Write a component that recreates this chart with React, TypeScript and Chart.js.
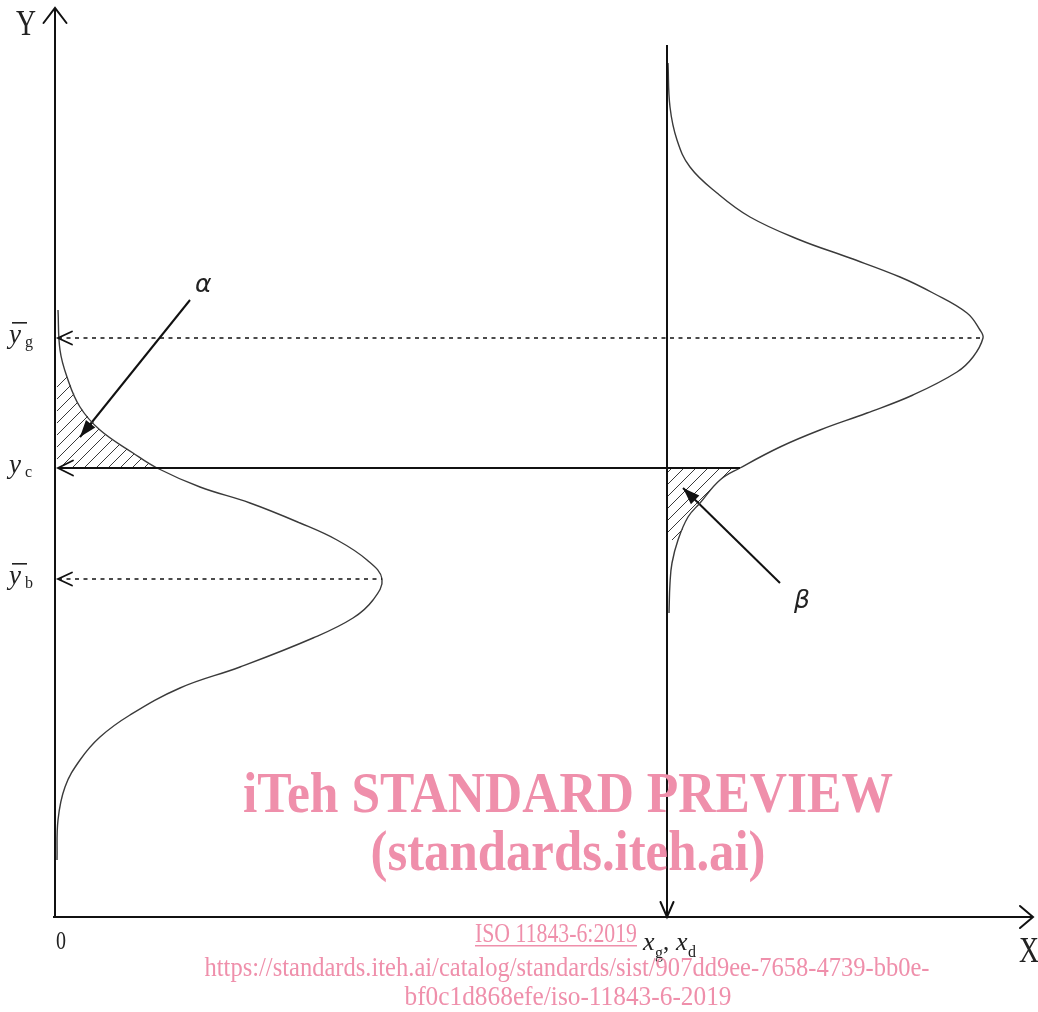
import React, { useEffect, useRef } from "react";
import { Chart, registerables } from "chart.js";

Chart.register(...registerables);

// Diagram units: 1 unit ≈ 10 px; origin at the axes' corner.
const xMin = -5.5;
const xMax = 98.3;
const yMin = -9.5;
const yMax = 91.7;

// Reference levels
const yAxisTop = 90.9;
const xAxisEnd = 97.8;
const xGD = 61.2; // position of x_g, x_d
const xLineTop = 87.2;
const yG = 57.9; // mean of good sample
const yC = 44.9; // critical value
const yB = 33.8; // mean of bad sample

// Bad-sample distribution (left), density drawn horizontally from Y axis
const badDensity = [0.3, 0.5, 1.2, 2.5, 4.5, 7.8, 10.2, 14.5, 19.5, 24.5, 28.2, 31.2, 32.7, 31.8, 29.8, 25.8, 18.5, 12.5, 7.5, 4.5, 2.5, 1.0, 0.3, 0.2];
const badLevel = [60.7, 56.7, 54.0, 51.0, 48.7, 46.4, 44.9, 43.0, 41.4, 39.4, 37.7, 35.7, 33.8, 31.7, 29.9, 27.9, 25.0, 22.9, 20.2, 18.0, 15.7, 13.0, 9.7, 5.7];

// Good-sample distribution (right), density drawn from the x_g line
const goodDensity = [61.3, 61.5, 62.2, 63.5, 66.2, 69.5, 74.5, 79.5, 84.5, 87.8, 91.2, 92.5, 92.8, 91.8, 90.2, 85.8, 81.2, 76.5, 72.5, 68.5, 66.5, 64.5, 63.3, 62.3, 61.7, 61.5, 61.4];
const goodLevel = [85.4, 81.0, 77.7, 75.0, 72.4, 70.0, 67.7, 65.9, 64.0, 62.4, 60.4, 58.7, 57.9, 56.0, 54.5, 52.2, 50.4, 48.7, 47.0, 44.9, 43.7, 41.4, 40.0, 37.7, 35.4, 33.4, 30.4];

// Pointer arrows for alpha and beta
const alphaArrow = [{ x: 13.5, y: 61.7 }, { x: 2.5, y: 48.0 }];
const betaArrow = [{ x: 72.5, y: 33.4 }, { x: 62.8, y: 42.9 }];

const pts = (xs: number[], ys: number[]) => xs.map((x, i) => ({ x, y: ys[i] }));

const INK = "#111";
const PINK = "#ef8fab";

const decorPlugin = {
  id: "decor",
  afterDatasetsDraw(chart: any) {
    const ctx: CanvasRenderingContext2D = chart.ctx;
    const sx = chart.scales.x;
    const sy = chart.scales.y;
    const X = (v: number) => sx.getPixelForValue(v);
    const Y = (v: number) => sy.getPixelForValue(v);
    ctx.save();
    ctx.strokeStyle = INK;
    ctx.fillStyle = INK;
    ctx.lineWidth = 2;
    ctx.lineCap = "round";
    ctx.lineJoin = "miter";

    const open = (tx: number, ty: number, ax: number, ay: number, bx: number, by: number) => {
      ctx.beginPath();
      ctx.moveTo(tx + ax, ty + ay);
      ctx.lineTo(tx, ty);
      ctx.lineTo(tx + bx, ty + by);
      ctx.stroke();
    };
    // Axis arrowheads
    open(X(0), Y(yAxisTop), -11.5, 15, 11.5, 15);
    open(X(xAxisEnd), Y(0), -13, -11, -13, 11);
    open(X(xGD), Y(0), -6.5, -15, 6.5, -15);
    // Level arrows pointing at the Y axis
    ctx.lineWidth = 1.8;
    open(X(0.3), Y(yG), 14, -6.5, 14, 6.5);
    open(X(0.3), Y(yC), 15, -7.5, 15, 7.5);
    open(X(0.3), Y(yB), 14, -6.5, 14, 6.5);

    // Filled arrowheads for alpha / beta pointers
    const filled = (a: any, b: any) => {
      const x1 = X(a.x), y1 = Y(a.y), x2 = X(b.x), y2 = Y(b.y);
      const ang = Math.atan2(y2 - y1, x2 - x1);
      const L = 17, W = 6;
      const bx = x2 - L * Math.cos(ang), by = y2 - L * Math.sin(ang);
      ctx.beginPath();
      ctx.moveTo(x2, y2);
      ctx.lineTo(bx + W * Math.sin(ang), by - W * Math.cos(ang));
      ctx.lineTo(bx - W * Math.sin(ang), by + W * Math.cos(ang));
      ctx.closePath();
      ctx.fill();
    };
    filled(alphaArrow[0], alphaArrow[1]);
    filled(betaArrow[0], betaArrow[1]);

    // Axis labels
    ctx.textAlign = "left";
    ctx.textBaseline = "alphabetic";
    ctx.fillStyle = "#222";
    ctx.font = '36px "Liberation Serif"';
    ctx.fillText("Y", 16, Y(yAxisTop) + 27, 20);
    ctx.fillText("X", 1019, Y(0) + 45, 20);
    ctx.font = '26px "Liberation Serif"';
    ctx.fillText("0", 56, Y(0) + 32, 10);

    // Level labels on the left
    const levelLabel = (lvl: number, sub: string, bar: boolean) => {
      const base = Y(lvl) + 5;
      ctx.font = 'italic 27px "Liberation Serif"';
      ctx.fillText("y", 9, base);
      if (bar) ctx.fillRect(12, base - 21, 15, 1.6);
      ctx.font = '16px "Liberation Serif"';
      ctx.fillText(sub, 25, base + 4);
    };
    levelLabel(yG, "g", true);
    levelLabel(yC, "c", false);
    levelLabel(yB, "b", true);

    // x_g, x_d label
    const lx = X(xGD) - 24;
    const lb = Y(0) + 33;
    ctx.font = 'italic 26px "Liberation Serif"';
    ctx.fillText("x", lx, lb);
    ctx.font = '16px "Liberation Serif"';
    ctx.fillText("g", lx + 12, lb + 8);
    ctx.font = '25px "Liberation Serif"';
    ctx.fillText(",", lx + 20, lb);
    ctx.font = 'italic 26px "Liberation Serif"';
    ctx.fillText("x", lx + 33, lb);
    ctx.font = '16px "Liberation Serif"';
    ctx.fillText("d", lx + 45, lb + 7);

    // Greek letters
    ctx.font = 'italic 25px "DejaVu Sans"';
    ctx.fillText("α", X(alphaArrow[0].x) + 5, Y(alphaArrow[0].y) - 8);
    ctx.fillText("β", X(betaArrow[0].x) + 14, Y(betaArrow[0].y) + 25);

    // Watermark
    ctx.fillStyle = PINK;
    ctx.textAlign = "center";
    ctx.font = 'bold 56px "Liberation Serif"';
    ctx.fillText("iTeh STANDARD PREVIEW", 568, 812, 650);
    ctx.fillText("(standards.iteh.ai)", 568, 870, 395);
    ctx.font = '28px "Liberation Serif"';
    ctx.fillText("ISO 11843-6:2019", 556, 942, 162);
    ctx.fillRect(475, 945, 162, 1.5);
    ctx.fillText("https://standards.iteh.ai/catalog/standards/sist/907dd9ee-7658-4739-bb0e-", 567, 976, 725);
    ctx.fillText("bf0c1d868efe/iso-11843-6-2019", 568, 1005, 327);
    ctx.restore();
  },
};

function makeHatch(): CanvasPattern | string {
  const c = document.createElement("canvas");
  const s = 12;
  c.width = s;
  c.height = s;
  const p = c.getContext("2d");
  if (!p) return "rgba(0,0,0,0.2)";
  p.strokeStyle = "#222";
  p.lineWidth = 0.9;
  p.beginPath();
  p.moveTo(0, s);
  p.lineTo(s, 0);
  p.moveTo(-s / 2, s / 2);
  p.lineTo(s / 2, -s / 2);
  p.moveTo(s / 2, s * 1.5);
  p.lineTo(s * 1.5, s / 2);
  p.stroke();
  const pat = p.createPattern(c, "repeat");
  return pat || "rgba(0,0,0,0.2)";
}

export default function App() {
  const ref = useRef<HTMLCanvasElement | null>(null);

  useEffect(() => {
    if (!ref.current) return;
    const hatch = makeHatch();
    const bad = pts(badDensity, badLevel);
    const good = pts(goodDensity, goodLevel);

    const line = (data: any[], extra: any = {}) => ({
      data,
      showLine: true,
      pointRadius: 0,
      pointHoverRadius: 0,
      borderColor: INK,
      borderWidth: 2,
      tension: 0,
      fill: false,
      clip: false,
      ...extra,
    });

    const hatchLeft = [{ x: 0.2, y: yC }, { x: 0.2, y: badLevel[2] }, ...bad.slice(2, 7)];
    const hatchRight = [{ x: xGD, y: yC }, ...good.slice(19, 24), { x: xGD, y: goodLevel[23] }];

    const chart = new Chart(ref.current, {
      type: "scatter",
      data: {
        datasets: [
          line([{ x: 0, y: 0 }, { x: 0, y: yAxisTop }]),
          line([{ x: -0.2, y: 0 }, { x: xAxisEnd, y: 0 }]),
          line([{ x: xGD, y: xLineTop }, { x: xGD, y: 0 }]),
          line([{ x: 0.3, y: yC }, { x: good[19].x, y: yC }]),
          line([{ x: 0.3, y: yG }, { x: good[12].x, y: yG }], { borderDash: [4, 4.5], borderWidth: 1.5 }),
          line([{ x: 0.3, y: yB }, { x: bad[12].x, y: yB }], { borderDash: [4, 4.5], borderWidth: 1.5 }),
          line(bad, { tension: 0.4, borderWidth: 1.4, borderColor: "#3a3a3a" }),
          line(good, { tension: 0.4, borderWidth: 1.4, borderColor: "#3a3a3a" }),
          line(alphaArrow, { borderWidth: 2 }),
          line(betaArrow, { borderWidth: 2 }),
          line(hatchLeft, { borderWidth: 0, fill: "shape", backgroundColor: hatch }),
          line(hatchRight, { borderWidth: 0, fill: "shape", backgroundColor: hatch }),
        ],
      },
      options: {
        animation: false,
        responsive: false,
        devicePixelRatio: 1,
        layout: { padding: 0 },
        plugins: { legend: { display: false }, tooltip: { enabled: false } },
        events: [],
        scales: {
          x: { type: "linear", display: false, min: xMin, max: xMax },
          y: { type: "linear", display: false, min: yMin, max: yMax },
        },
      },
      plugins: [decorPlugin],
    });
    return () => chart.destroy();
  }, []);

  return (
    <div style={{ position: "absolute", left: 0, top: 0, width: 1038, height: 1012, background: "#fff" }}>
      <canvas ref={ref} width={1038} height={1012} style={{ display: "block" }} />
    </div>
  );
}
